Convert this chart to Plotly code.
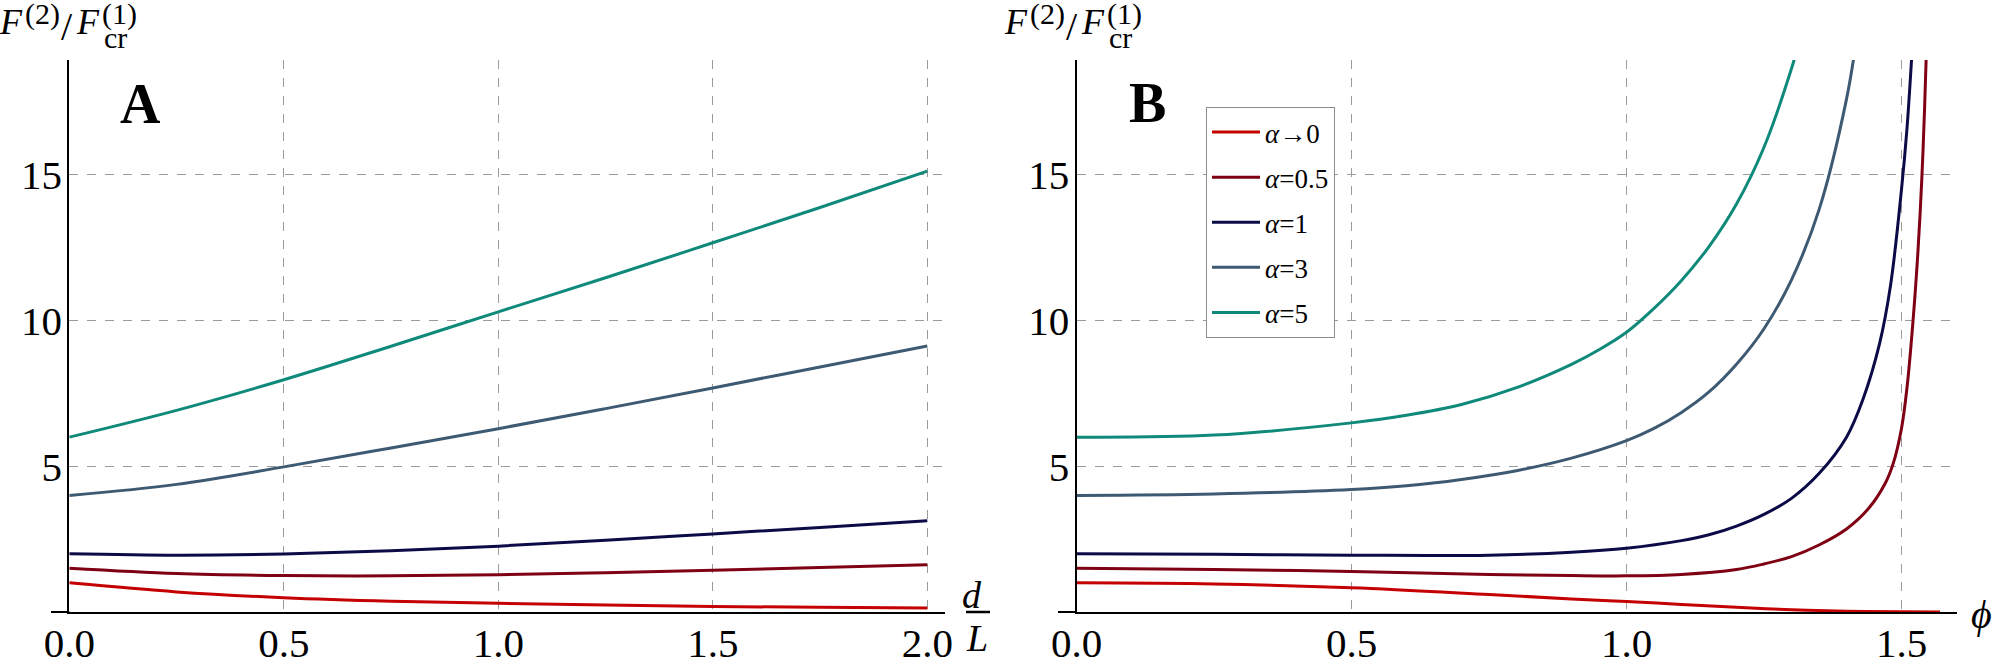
import plotly.graph_objects as go

W, H = 1998, 664
SERIF = "Liberation Serif, Times New Roman, serif"

# ---------------- data: panel A (d/L) ----------------
a_d = [0, 0.25, 0.5, 0.75, 1.0, 1.25, 1.5, 1.75, 2.0]
a_alpha0 = [1.0, 0.69, 0.49, 0.37, 0.30, 0.24, 0.19, 0.16, 0.14]
a_alpha05 = [1.5, 1.32, 1.25, 1.24, 1.28, 1.35, 1.43, 1.53, 1.62]
a_alpha1 = [2.0, 1.95, 1.99, 2.1, 2.26, 2.46, 2.68, 2.9, 3.13]
a_alpha3 = [4.0, 4.38, 4.98, 5.63, 6.29, 6.98, 7.69, 8.41, 9.13]
a_alpha5 = [6.0, 6.92, 7.97, 9.12, 10.30, 11.47, 12.67, 13.88, 15.13]

# ---------------- data: panel B (phi) ----------------
b_phi_a0 = [0, 0.25, 0.5, 0.75, 0.9, 1.0, 1.1, 1.2, 1.3, 1.4, 1.5, 1.57]
b_a0 = [1.0, 0.96, 0.83, 0.6, 0.45, 0.36, 0.26, 0.16, 0.08, 0.03, 0.01, 0.0]
b_phi_a05 = [0, 0.25, 0.5, 0.75, 0.9, 1.0, 1.1, 1.2, 1.25, 1.3, 1.35, 1.4, 1.44,
             1.47, 1.485, 1.5, 1.51, 1.521, 1.53, 1.537, 1.542, 1.547]
b_a05 = [1.5, 1.46, 1.39, 1.29, 1.25, 1.24, 1.29, 1.46, 1.65, 1.9, 2.3, 2.85, 3.55,
         4.4, 5.1, 6.3, 7.7, 10.0, 12.4, 14.9, 17.3, 20.3]
b_phi_a1 = [0, 0.25, 0.5, 0.75, 0.9, 1.0, 1.1, 1.15, 1.2, 1.25, 1.3, 1.35, 1.4,
            1.43, 1.46, 1.48, 1.5, 1.51, 1.52]
b_a1 = [2.0, 1.98, 1.95, 1.95, 2.05, 2.19, 2.45, 2.65, 2.95, 3.35, 3.9, 4.75, 6.0,
        7.3, 9.2, 11.2, 14.5, 16.6, 19.5]
b_phi_a3 = [0, 0.25, 0.5, 0.6, 0.7, 0.8, 0.9, 1.0, 1.05, 1.1, 1.15, 1.2, 1.25,
            1.3, 1.35, 1.4, 1.42]
b_a3 = [4.0, 4.05, 4.2, 4.33, 4.55, 4.85, 5.28, 5.88, 6.3, 6.85, 7.55, 8.5, 9.72,
        11.4, 13.8, 17.6, 19.9]
b_phi_a5 = [0, 0.25, 0.5, 0.6, 0.7, 0.8, 0.9, 0.95, 1.0, 1.05, 1.1, 1.15, 1.2,
            1.25, 1.3, 1.32]
b_a5 = [6.0, 6.07, 6.49, 6.75, 7.12, 7.7, 8.5, 9.0, 9.6, 10.42, 11.38, 12.54, 14.0,
        15.95, 18.65, 20.0]

names = ["<i>α</i>→0", "<i>α</i>=0.5", "<i>α</i>=1", "<i>α</i>=3", "<i>α</i>=5"]
colors = ["#C40000", "#7E0012", "#0B0B47", "#3E5A72", "#0F8A7A"]

x_ticks_a = [0, 0.5, 1.0, 1.5, 2.0]
x_ticks_b = [0, 0.5, 1.0, 1.5]
y_ticks = [5, 10, 15]

a_series = [a_alpha0, a_alpha05, a_alpha1, a_alpha3, a_alpha5]
b_series = [(b_phi_a0, b_a0), (b_phi_a05, b_a05), (b_phi_a1, b_a1),
            (b_phi_a3, b_a3), (b_phi_a5, b_a5)]

fig = go.Figure()
for name, col, ys in zip(names, colors, a_series):
    fig.add_trace(go.Scatter(x=a_d, y=ys, mode="lines", name=name, showlegend=False,
                             line=dict(color=col, width=3, shape="spline", smoothing=1),
                             xaxis="x", yaxis="y", hoverinfo="skip"))
for name, col, (xs, ys) in zip(names, colors, b_series):
    fig.add_trace(go.Scatter(x=xs, y=ys, mode="lines", name=name, showlegend=True,
                             legendgroup=name,
                             line=dict(color=col, width=3, shape="spline", smoothing=1),
                             xaxis="x2", yaxis="y2", hoverinfo="skip"))


def px(x):
    return x / W


def py(y):
    return 1 - y / H


y_bottom = 612.0
y_top = 60.0
ydom = [py(y_bottom), py(y_top)]

grid = dict(showgrid=True, griddash="dash", gridcolor="#9b9b9b", gridwidth=1.3,
            zeroline=False, ticks="", showline=True, linecolor="black", linewidth=2,
            automargin=False,
            tickfont=dict(family=SERIF, size=41, color="black"))

fig.update_layout(
    template="none",
    width=W, height=H, margin=dict(l=0, r=0, t=0, b=0, pad=0, autoexpand=False),
    paper_bgcolor="white", plot_bgcolor="white",
    xaxis=dict(domain=[px(69.3), px(945)], range=[0, (945 - 69.3) / 429.0], anchor="y",
               tickvals=x_ticks_a, ticktext=[f"{v:.1f}" for v in x_ticks_a],
               ticklabelstandoff=-6, **grid),
    yaxis=dict(domain=ydom, range=[0, (y_bottom - y_top) / 29.14], anchor="x",
               tickvals=y_ticks, ticktext=[str(v) for v in y_ticks],
               ticklabelstandoff=-3, **grid),
    xaxis2=dict(domain=[px(1076.5), px(1957)], range=[0, (1957 - 1076.5) / 550.0], anchor="y2",
                tickvals=x_ticks_b, ticktext=[f"{v:.1f}" for v in x_ticks_b],
                ticklabelstandoff=-6, **grid),
    yaxis2=dict(domain=ydom, range=[0, (y_bottom - y_top) / 29.14], anchor="x2",
                tickvals=y_ticks, ticktext=[str(v) for v in y_ticks],
                ticklabelstandoff=-3, **grid),
    legend=dict(x=px(1206), y=py(107), xanchor="left", yanchor="top",
                bordercolor="#8c8c8c", borderwidth=1, bgcolor="white",
                font=dict(family=SERIF, size=27, color="black"),
                tracegroupgap=7, itemwidth=48),
    showlegend=True,
)

shapes = []
# x-axis line extensions left of the origin (Mathematica-style axes)
for x0, x1 in [(51, 69.3), (1058, 1076.5)]:
    shapes.append(dict(type="line", xref="paper", yref="paper", x0=px(x0), x1=px(x1),
                       y0=py(y_bottom), y1=py(y_bottom), line=dict(color="black", width=2)))
# fraction bar of d/L
shapes.append(dict(type="line", xref="paper", yref="paper", x0=px(966), x1=px(990),
                   y0=py(612), y1=py(612), line=dict(color="black", width=2.5)))
fig.update_layout(shapes=shapes)

ann = []


def txt(t, x, y, size, bold=False, xanchor="center"):
    ann.append(dict(text=(f"<b>{t}</b>" if bold else t), x=px(x), y=py(y),
                    xref="paper", yref="paper", xanchor=xanchor, yanchor="middle",
                    showarrow=False, borderpad=0,
                    font=dict(family=SERIF, size=size, color="black")))


for off in [0, 1005]:
    txt("<i>F</i>", 11 + off, 22, 36)
    txt("(2)", 42 + off, 14, 30)
    txt("/", 67 + off, 26, 40)
    txt("<i>F</i>", 88 + off, 22, 36)
    txt("(1)", 119 + off, 14, 30)
    txt("cr", 115 + off, 37, 30)

txt("A", 140.5, 103.5, 56, bold=True)
txt("B", 1147.5, 102.5, 56, bold=True)
txt("<i>d</i>", 972, 595, 38)
txt("<i>L</i>", 977, 638, 38)
txt("<i>ϕ</i>", 1981, 614, 40)
fig.update_layout(annotations=ann)

fig.write_html("out.html")
